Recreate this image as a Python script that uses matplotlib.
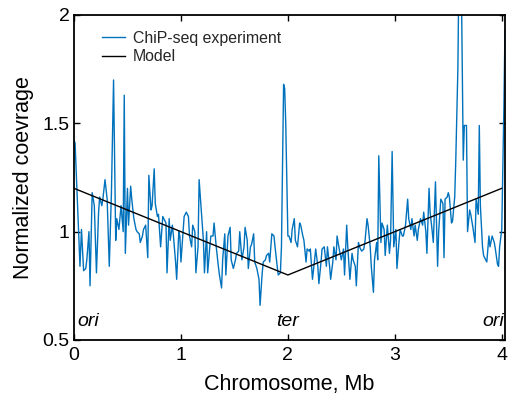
import matplotlib
matplotlib.use("Agg")
import matplotlib.pyplot as plt

position_mb = [
    0.00, 0.01, 0.056, 0.07, 0.09, 0.11, 0.12, 0.14, 0.15, 0.17, 0.19, 0.21, 0.23, 0.24, 0.26, 0.27,
    0.29, 0.31, 0.33, 0.35, 0.37, 0.39, 0.40, 0.42, 0.44, 0.46, 0.47, 0.48, 0.50, 0.51, 0.53, 0.54,
    0.56, 0.58, 0.59, 0.61, 0.62, 0.64, 0.65, 0.67, 0.69, 0.70, 0.72, 0.73, 0.75, 0.76, 0.78, 0.79,
    0.81, 0.83, 0.84, 0.86, 0.87, 0.89, 0.90, 0.92, 0.93, 0.95, 0.96, 0.98, 0.99, 1.00, 1.02, 1.03,
    1.05, 1.07, 1.08, 1.10, 1.11, 1.13, 1.14, 1.16, 1.17, 1.19, 1.21, 1.22, 1.24, 1.25, 1.27, 1.28,
    1.30, 1.31, 1.33, 1.35, 1.36, 1.38, 1.39, 1.41, 1.42, 1.44, 1.46, 1.47, 1.49, 1.51, 1.52, 1.54,
    1.55, 1.57, 1.59, 1.60, 1.62, 1.63, 1.65, 1.66, 1.68, 1.69, 1.71, 1.73, 1.74, 1.76, 1.77, 1.79,
    1.80, 1.82, 1.83, 1.85, 1.87, 1.88, 1.90, 1.91, 1.93, 1.94, 1.96, 1.97, 1.98, 2.00, 2.01, 2.03,
    2.04, 2.06, 2.07, 2.09, 2.11, 2.12, 2.14, 2.15, 2.17, 2.18, 2.20, 2.21, 2.23, 2.25, 2.26, 2.28,
    2.29, 2.31, 2.32, 2.34, 2.36, 2.37, 2.39, 2.40, 2.42, 2.43, 2.45, 2.46, 2.48, 2.50, 2.52, 2.53,
    2.55, 2.56, 2.58, 2.60, 2.61, 2.63, 2.64, 2.66, 2.67, 2.69, 2.71, 2.72, 2.74, 2.75, 2.77, 2.78,
    2.80, 2.81, 2.83, 2.84, 2.85, 2.87, 2.88, 2.90, 2.91, 2.93, 2.95, 2.96, 2.975, 2.99, 3.01, 3.02,
    3.04, 3.05, 3.07, 3.08, 3.10, 3.12, 3.13, 3.15, 3.16, 3.18, 3.19, 3.21, 3.22, 3.24, 3.26, 3.27,
    3.29, 3.30, 3.32, 3.33, 3.35, 3.36, 3.38, 3.40, 3.41, 3.43, 3.45, 3.46, 3.47, 3.49, 3.50, 3.51,
    3.53, 3.54, 3.56, 3.57, 3.59, 3.60, 3.62, 3.64, 3.65, 3.67, 3.68, 3.70, 3.71, 3.73, 3.75, 3.76,
    3.78, 3.79, 3.80, 3.82, 3.83, 3.85, 3.86, 3.88, 3.89, 3.91, 3.93, 3.94, 3.96, 3.97, 3.98, 4.00,
    4.02, 4.03,
]

coverage = [
    1.42, 1.41, 0.84, 1.01, 0.82, 0.83, 0.87, 1.00, 0.75, 1.18, 1.12, 0.81, 1.09, 1.16, 1.12, 1.15,
    1.24, 1.15, 0.84, 1.18, 1.70, 0.96, 1.06, 1.01, 1.12, 1.00, 1.63, 0.90, 1.20, 1.03, 1.21, 1.15,
    1.06, 1.01, 1.00, 0.99, 0.95, 0.98, 1.01, 1.03, 0.88, 1.26, 1.10, 1.12, 1.29, 1.13, 1.07, 1.08,
    0.93, 1.07, 1.06, 1.04, 0.81, 1.06, 0.96, 1.03, 0.98, 0.86, 0.78, 1.00, 0.98, 0.86, 1.00, 1.07,
    1.09, 1.07, 0.98, 0.93, 1.03, 1.00, 0.81, 0.93, 1.24, 1.10, 0.96, 0.81, 1.00, 0.81, 0.93, 0.98,
    0.98, 1.04, 0.93, 0.84, 0.80, 0.74, 0.87, 0.99, 0.80, 0.98, 1.02, 0.87, 0.83, 0.87, 0.90, 0.91,
    1.00, 0.87, 0.93, 1.02, 0.96, 0.83, 0.93, 0.94, 0.99, 0.86, 0.83, 0.78, 0.66, 0.81, 0.86, 0.87,
    0.89, 0.90, 0.86, 0.99, 0.98, 0.93, 0.84, 0.80, 0.81, 0.93, 1.68, 1.66, 1.50, 0.98, 0.98, 0.95,
    1.01, 1.06, 0.96, 0.93, 1.04, 1.03, 0.98, 0.96, 0.86, 0.92, 0.91, 0.92, 0.78, 0.87, 0.92, 0.84,
    0.76, 0.86, 0.92, 0.93, 0.84, 0.93, 0.84, 0.78, 0.86, 0.93, 0.87, 0.98, 0.92, 0.87, 0.92, 0.80,
    1.03, 0.93, 0.78, 0.90, 0.87, 0.84, 0.75, 0.95, 0.93, 0.91, 0.92, 0.95, 1.06, 1.03, 0.93, 0.84,
    0.72, 0.87, 0.95, 0.87, 1.35, 0.95, 1.04, 1.01, 0.89, 1.03, 0.90, 0.96, 1.37, 0.93, 1.01, 0.83,
    0.96, 1.01, 0.98, 0.98, 1.03, 1.15, 1.06, 1.01, 1.06, 0.98, 1.03, 0.96, 1.01, 1.06, 1.03, 1.09,
    1.00, 0.90, 1.20, 1.09, 1.00, 0.95, 1.23, 0.84, 1.00, 1.15, 1.13, 0.88, 1.15, 1.16, 1.18, 1.16,
    1.04, 1.05, 1.16, 1.33, 1.76, 2.25, 2.25, 1.33, 1.49, 1.49, 1.00, 1.10, 1.08, 1.02, 0.95, 1.15,
    1.08, 1.49, 1.12, 0.93, 0.89, 0.87, 0.86, 0.98, 0.93, 0.98, 0.95, 0.92, 0.85, 0.84, 0.93, 1.01,
    1.58, 1.93,
]

model_mb = [0.0, 2.0, 4.0]
model_cov = [1.2, 0.8, 1.2]

xticks = [0, 1, 2, 3, 4]
yticks = [0.5, 1, 1.5, 2]
ytick_labels = ["0.5", "1", "1.5", "2"]

plt.rcParams['font.family'] = ['Liberation Sans', 'DejaVu Sans']

fig = plt.figure(figsize=(5.11, 4.05), dpi=100)
ax = fig.add_axes([0.1448, 0.1605, 0.8434, 0.8025])

ax.plot(position_mb, coverage, color='#0072BD', lw=1.0, label='ChiP-seq experiment')
ax.plot(model_mb, model_cov, color='black', lw=1.0, label='Model')

ax.set_xlim(0, 4.03)
ax.set_ylim(0.5, 2)
ax.set_xticks(xticks)
ax.set_xticklabels([str(t) for t in xticks])
ax.set_yticks(yticks)
ax.set_yticklabels(ytick_labels)
ax.tick_params(direction='in', top=True, right=True, length=4, width=1.0,
               labelsize=14)
ax.tick_params(axis='x', pad=5)
ax.tick_params(axis='y', pad=3)
for s in ax.spines.values():
    s.set_linewidth(1.3)

ax.set_xlabel('Chromosome, Mb', fontsize=15.5, labelpad=7)
ax.set_ylabel('Normalized coevrage', fontsize=15.5, labelpad=6)

ax.text(0.03, 0.545, 'ori', style='italic', fontsize=14, ha='left', va='bottom')
ax.text(2.0, 0.545, 'ter', style='italic', fontsize=14, ha='center', va='bottom')
ax.text(4.02, 0.545, 'ori', style='italic', fontsize=14, ha='right', va='bottom')

leg = ax.legend(loc='upper left', frameon=False, fontsize=11.4, handlelength=1.45,
                handletextpad=0.5, labelspacing=0.2, borderaxespad=0.3,
                bbox_to_anchor=(0.039, 0.985))
for t in leg.get_texts():
    t.set_color('#262626')

fig.savefig('out.png', dpi=100)
